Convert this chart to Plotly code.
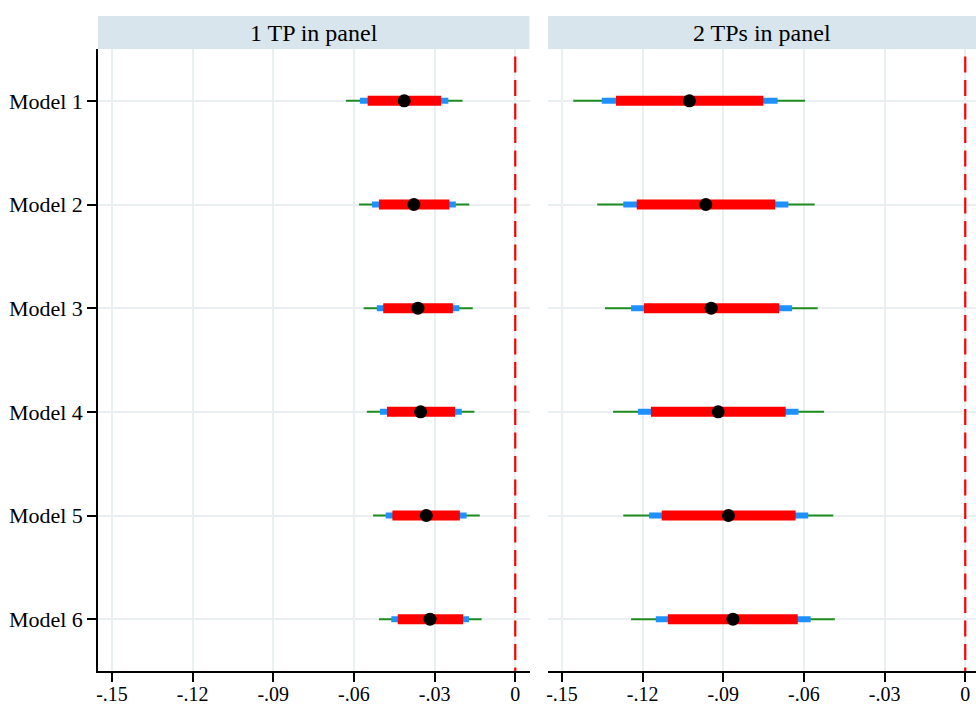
import plotly.graph_objects as go

models = ["Model 1", "Model 2", "Model 3", "Model 4", "Model 5", "Model 6"]
panels = ["1 TP in panel", "2 TPs in panel"]

# Panel 1 (1 TP in panel)
p1_est = [-0.0413, -0.0377, -0.0362, -0.0352, -0.0331, -0.0317]
p1_ci99_lo = [-0.0630, -0.0581, -0.0564, -0.0552, -0.0529, -0.0507]
p1_ci99_hi = [-0.0196, -0.0171, -0.0158, -0.0152, -0.0132, -0.0125]
p1_ci95_lo = [-0.0578, -0.0533, -0.0515, -0.0503, -0.0482, -0.0461]
p1_ci95_hi = [-0.0249, -0.0221, -0.0208, -0.0199, -0.0181, -0.0172]
p1_ci90_lo = [-0.0549, -0.0507, -0.0491, -0.0477, -0.0457, -0.0437]
p1_ci90_hi = [-0.0276, -0.0245, -0.0232, -0.0224, -0.0206, -0.0194]

# Panel 2 (2 TPs in panel)
p2_est = [-0.1026, -0.0965, -0.0945, -0.0919, -0.0881, -0.0864]
p2_ci99_lo = [-0.1458, -0.1369, -0.1340, -0.1310, -0.1272, -0.1243]
p2_ci99_hi = [-0.0596, -0.0560, -0.0549, -0.0525, -0.0491, -0.0485]
p2_ci95_lo = [-0.1352, -0.1272, -0.1243, -0.1217, -0.1176, -0.1151]
p2_ci95_hi = [-0.0698, -0.0658, -0.0644, -0.0620, -0.0584, -0.0575]
p2_ci90_lo = [-0.1299, -0.1222, -0.1195, -0.1169, -0.1129, -0.1106]
p2_ci90_hi = [-0.0751, -0.0707, -0.0692, -0.0668, -0.0631, -0.0623]

x_tickvals = [-0.15, -0.12, -0.09, -0.06, -0.03, 0]
x_ticktext = ["-.15", "-.12", "-.09", "-.06", "-.03", "0"]

FONT = "Liberation Serif"
GRID = "#EAF0F2"
HEADER = "#D9E5EC"

fig = go.Figure()


def segs(lo, hi, cats):
    xs, ys = [], []
    for a, b, c in zip(lo, hi, cats):
        xs += [a, b, None]
        ys += [c, c, None]
    return xs, ys


panel_data = [
    (p1_est, (p1_ci99_lo, p1_ci99_hi), (p1_ci95_lo, p1_ci95_hi), (p1_ci90_lo, p1_ci90_hi)),
    (p2_est, (p2_ci99_lo, p2_ci99_hi), (p2_ci95_lo, p2_ci95_hi), (p2_ci90_lo, p2_ci90_hi)),
]

for i, (est, c99, c95, c90) in enumerate(panel_data):
    xa = "x" if i == 0 else "x2"
    ya = "y" if i == 0 else "y2"
    # reference line at 0
    fig.add_trace(go.Scatter(x=[0, 0], y=[-0.428, 5.5], mode="lines",
                             line=dict(color="#FF0000", width=2.2, dash="16px,7.5px"),
                             xaxis=xa, yaxis=ya, showlegend=False, hoverinfo="skip"))
    for (lo, hi), col, w in [(c99, "#1E8C1E", 2), (c95, "#1E90FF", 6), (c90, "#FF0000", 10)]:
        xs, ys = segs(lo, hi, list(range(len(models))))
        fig.add_trace(go.Scatter(x=xs, y=ys, mode="lines", line=dict(color=col, width=w),
                                 xaxis=xa, yaxis=ya, showlegend=False, connectgaps=False))
    fig.add_trace(go.Scatter(x=est, y=list(range(len(models))), mode="markers",
                             marker=dict(color="black", size=13),
                             xaxis=xa, yaxis=ya, showlegend=False))

W, H = 976, 704
ml, mr, mt, mb = 98, 0, 49, 33
pw = W - ml - mr
ph = H - mt - mb
d1 = [0, (529.5 - ml) / pw]
d2 = [(548 - ml) / pw, 1]

xcommon = dict(tickvals=x_tickvals, ticktext=x_ticktext, automargin=False,
               showgrid=True, gridcolor=GRID, gridwidth=1.5, zeroline=False,
               showline=True, linecolor="black", linewidth=1.5,
               ticks="outside", ticklen=9, tickcolor="black", tickwidth=1.5,
               ticklabelstandoff=-5,
               tickfont=dict(family=FONT, size=20, color="black"))
ycommon = dict(range=[5.5, -0.5], tickvals=list(range(len(models))), ticktext=models,
               automargin=False,
               showgrid=True, gridcolor=GRID, gridwidth=1.5, zeroline=False,
               tickfont=dict(family=FONT, size=22, color="black"))

fig.update_layout(
    width=W, height=H, margin=dict(l=ml, r=mr, t=mt, b=mb, autoexpand=False),
    paper_bgcolor="white", plot_bgcolor="white",
    xaxis=dict(domain=d1, anchor="y", range=[-0.1552, 0.0053], **xcommon),
    xaxis2=dict(domain=d2, anchor="y2", range=[-0.1552, 0.0040], **xcommon),
    yaxis=dict(domain=[0, 1], anchor="x", showline=True, linecolor="black", linewidth=1.5,
               ticks="outside", ticklen=9, tickcolor="black", tickwidth=1.5, **ycommon),
    yaxis2=dict(domain=[0, 1], anchor="x2", showline=False, ticks="", showticklabels=False,
                **{k: v for k, v in ycommon.items() if k != "tickfont"}),
    showlegend=False,
)

hy0 = 1.0
hy1 = 1 + 33 / ph
for dom, title in zip([d1, d2], panels):
    fig.add_shape(type="rect", xref="paper", yref="paper", x0=dom[0], x1=dom[1], y0=hy0, y1=hy1,
                  fillcolor=HEADER, line=dict(width=0), layer="below")
    fig.add_annotation(xref="paper", yref="paper", x=(dom[0] + dom[1]) / 2, y=(hy0 + hy1) / 2,
                       text=title, showarrow=False, xanchor="center", yanchor="middle",
                       font=dict(family=FONT, size=24, color="black"))

fig.write_html("out.html", config={"displayModeBar": False},
               post_script="document.body.style.margin='0';")
